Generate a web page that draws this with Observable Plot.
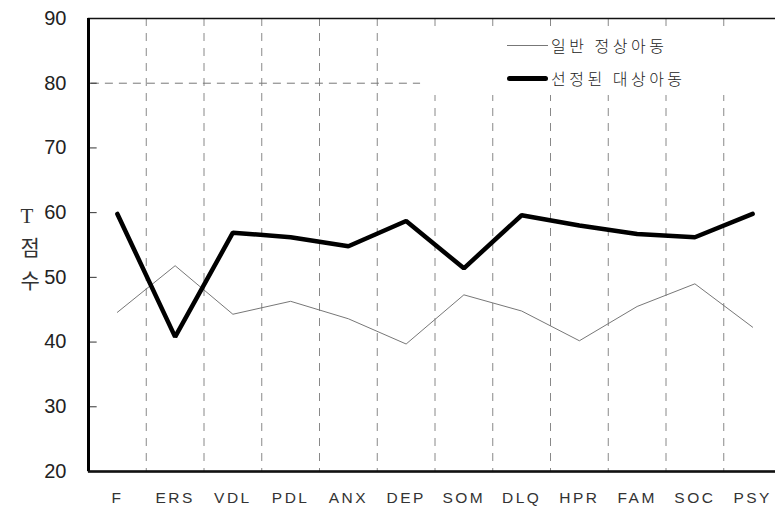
<!DOCTYPE html>
<html>
<head>
<meta charset="utf-8">
<script src="https://cdn.jsdelivr.net/npm/d3@7"></script>
<script src="https://cdn.jsdelivr.net/npm/@observablehq/plot@0.6"></script>
<style>
  html, body { margin: 0; padding: 0; background: #fff; }
  #wrap { position: relative; width: 775px; height: 508px; overflow: hidden; }
  #legend { position: absolute; left: 426px; top: 27px; width: 318px; height: 68px; background: #fff;
    font-family: "Noto Sans CJK KR", sans-serif; font-weight: 300; font-size: 16px; color: #222; letter-spacing: 3.5px; }
  .row { position: absolute; left: 0; height: 20px; display: flex; align-items: center; }
  .sw { display: inline-block; margin-left: 81px; width: 41px; margin-right: 3px; }
  g[aria-label="x-axis tick label"] text { letter-spacing: 2.5px; }
</style>
</head>
<body>
<div id="wrap">
  <div id="chart"></div>
  <div id="legend">
    <div class="row" style="top:8px"><span class="sw" style="border-top:1px solid #777"></span><span id="l1"></span></div>
    <div class="row" style="top:41px"><span class="sw" style="border-top:5px solid #000;border-radius:3px"></span><span id="l2"></span></div>
  </div>
</div>
<script>
const categories = ["F","ERS","VDL","PDL","ANX","DEP","SOM","DLQ","HPR","FAM","SOC","PSY"];
const normalValues = [44.6, 51.8, 44.3, 46.3, 43.6, 39.7, 47.3, 44.8, 40.2, 45.5, 49.0, 42.3];
const selectedValues = [59.8, 40.8, 56.9, 56.2, 54.8, 58.7, 51.4, 59.6, 58.0, 56.7, 56.2, 59.8];
const seriesNames = ["일반 정상아동", "선정된 대상아동"];
const yTicks = [20, 30, 40, 50, 60, 70, 80, 90];
const refLineValue = [80];
const refLineSpan = [-0.45, 5.25];
const yLabel = "T\n점\n수";

document.getElementById("l1").textContent = seriesNames[0];
document.getElementById("l2").textContent = seriesNames[1];

const normal = categories.map((c, i) => ({i, c, v: normalValues[i]}));
const selected = categories.map((c, i) => ({i, c, v: selectedValues[i]}));
const boundaries = categories.slice(1).map((c, i) => i + 0.5);
const xDomain = [-0.5, categories.length - 0.5];

const chart = Plot.plot({
  width: 775,
  height: 508,
  marginLeft: 88,
  marginRight: -6,
  marginTop: 18,
  marginBottom: 37,
  style: {background: "#fff", overflow: "hidden"},
  x: {domain: xDomain, axis: null},
  y: {domain: [20, 90], axis: null},
  marks: [
    Plot.ruleX(boundaries, {x: d => d, stroke: "#888", strokeWidth: 1, strokeDasharray: "8,7"}),
    Plot.ruleY(refLineValue, {y: d => d, x1: refLineSpan[0], x2: refLineSpan[1], stroke: "#777", strokeWidth: 1, strokeDasharray: "8,6"}),
    Plot.ruleY(yTicks.slice(1, -1), {y: d => d, x1: xDomain[0], x2: xDomain[0] + 0.15, stroke: "#333", strokeWidth: 1}),
    Plot.line(normal, {x: "i", y: "v", stroke: "#777", strokeWidth: 1}),
    Plot.line(selected, {x: "i", y: "v", stroke: "#000", strokeWidth: 4.5, strokeLinejoin: "miter"}),
    Plot.frame({stroke: "#111", strokeWidth: 1.5}),
    Plot.ruleX([xDomain[0]], {stroke: "#000", strokeWidth: 3}),
    Plot.ruleY([20], {stroke: "#111", strokeWidth: 2.5}),
    Plot.axisY(yTicks, {label: null, tickSize: 0, tickPadding: 22, fontSize: 20, fontFamily: "Liberation Sans, Arial, sans-serif", fill: "#222"}),
    Plot.axisX(categories.map((c, i) => i), {label: null, tickSize: 0, tickPadding: 20, tickFormat: i => categories[i], fontSize: 15.5, fontFamily: "Liberation Sans, Arial, sans-serif", fill: "#333"}),
    Plot.text([yLabel], {frameAnchor: "left", dx: -68, dy: 0, text: d => d, fontSize: 21, lineHeight: 1.55, fontFamily: "Liberation Serif, Noto Sans CJK KR, serif", fill: "#333"})
  ]
});
document.getElementById("chart").appendChild(chart);
</script>
</body>
</html>
